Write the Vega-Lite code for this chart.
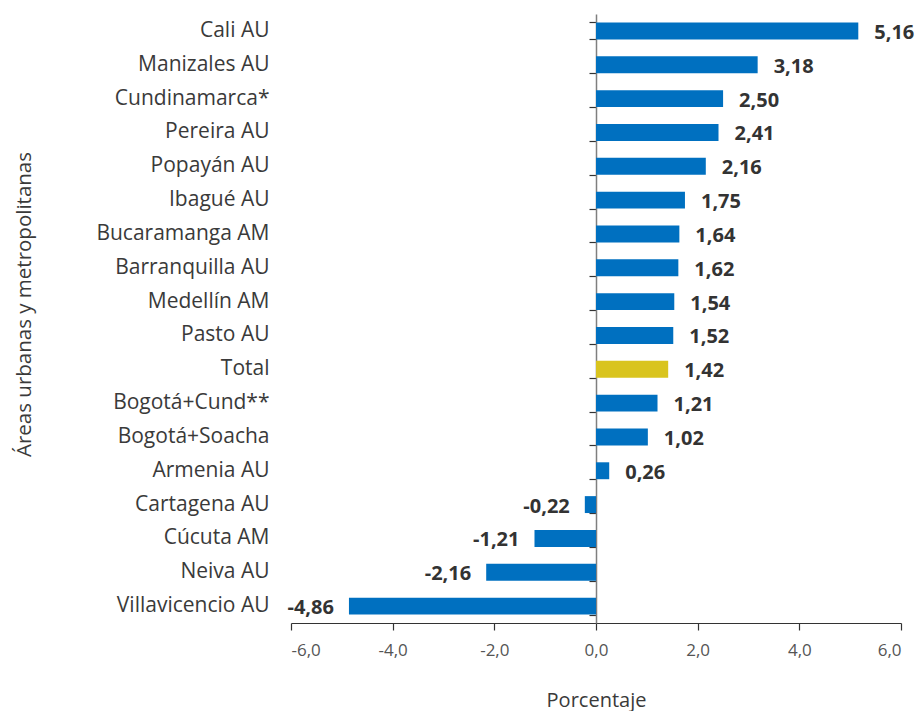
{
  "$schema": "https://vega.github.io/schema/vega-lite/v6.json",
  "autosize": {"type": "none"},
  "width": 610,
  "height": 609,
  "padding": {"left": 291, "top": 14, "right": 16, "bottom": 88},
  "background": "white",
  "config": {
    "font": "Open Sans",
    "view": {"stroke": null},
    "locale": {"number": {"decimal": ",", "thousands": ".", "grouping": [3], "currency": ["", ""], "minus": "-"}}
  },
  "data": {
    "values": [
      {"area": "Cali AU", "v": 5.16, "tipo": "area"},
      {"area": "Manizales AU", "v": 3.18, "tipo": "area"},
      {"area": "Cundinamarca*", "v": 2.50, "tipo": "area"},
      {"area": "Pereira AU", "v": 2.41, "tipo": "area"},
      {"area": "Popayán AU", "v": 2.16, "tipo": "area"},
      {"area": "Ibagué AU", "v": 1.75, "tipo": "area"},
      {"area": "Bucaramanga AM", "v": 1.64, "tipo": "area"},
      {"area": "Barranquilla AU", "v": 1.62, "tipo": "area"},
      {"area": "Medellín AM", "v": 1.54, "tipo": "area"},
      {"area": "Pasto AU", "v": 1.52, "tipo": "area"},
      {"area": "Total", "v": 1.42, "tipo": "total"},
      {"area": "Bogotá+Cund**", "v": 1.21, "tipo": "area"},
      {"area": "Bogotá+Soacha ", "v": 1.02, "tipo": "area"},
      {"area": "Armenia AU", "v": 0.26, "tipo": "area"},
      {"area": "Cartagena AU", "v": -0.22, "tipo": "area"},
      {"area": "Cúcuta AM", "v": -1.21, "tipo": "area"},
      {"area": "Neiva AU", "v": -2.16, "tipo": "area"},
      {"area": "Villavicencio AU", "v": -4.86, "tipo": "area"}
    ]
  },
  "resolve": {"axis": {"y": "independent"}},
  "layer": [
    {
      "mark": {"type": "bar"},
      "encoding": {
        "y": {
          "field": "area", "type": "nominal", "sort": null,
          "scale": {"paddingInner": 0.5, "paddingOuter": 0.25},
          "axis": {
            "orient": "left",
            "title": "Áreas urbanas y metropolitanas",
            "titleFontSize": 20.5, "titleFontWeight": "normal", "titleColor": "#3a3a3a",
            "titlePadding": 61, "titleY": 290,
            "labelFontSize": 21, "labelColor": "#3a3a3a", "labelPadding": 22,
            "ticks": false, "domain": false, "grid": false
          }
        },
        "x": {
          "field": "v", "type": "quantitative",
          "scale": {"domain": [-6, 6], "nice": false, "zero": false},
          "axis": {
            "title": "Porcentaje",
            "values": [-6, -4, -2, 0, 2, 4, 6],
            "format": ".1f",
            "titleFontSize": 20, "titleFontWeight": "normal", "titleColor": "#3a3a3a",
            "titlePadding": 32,
            "labelFontSize": 17, "labelColor": "#555555", "labelPadding": 12,
            "tickSize": 7, "tickColor": "#333333", "domainColor": "#333333",
            "domainWidth": 1.2, "tickWidth": 1.2,
            "grid": false
          }
        },
        "color": {
          "field": "tipo", "type": "nominal",
          "scale": {"domain": ["area", "total"], "range": ["#0070C0", "#D9C41E"]},
          "legend": null
        }
      }
    },
    {
      "transform": [{"filter": "datum.v >= 0"}],
      "mark": {"type": "text", "align": "left", "baseline": "middle", "dx": 16, "dy": 2, "fontSize": 20, "fontWeight": "bold", "color": "#333333"},
      "encoding": {
        "y": {
          "field": "area", "type": "nominal", "sort": null,
          "axis": {
            "orient": "left", "offset": -305, "title": null,
            "labels": false, "grid": false,
            "domain": true, "domainColor": "#7f7f7f", "domainWidth": 1.5,
            "ticks": true, "tickBand": "extent", "tickSize": 7, "tickColor": "#333333", "tickWidth": 1.2
          }
        },
        "x": {"field": "v", "type": "quantitative"},
        "text": {"field": "v", "type": "quantitative", "format": ".2f"}
      }
    },
    {
      "transform": [{"filter": "datum.v < 0"}],
      "mark": {"type": "text", "align": "right", "baseline": "middle", "dx": -15, "dy": 2, "fontSize": 20, "fontWeight": "bold", "color": "#333333"},
      "encoding": {
        "y": {"field": "area", "type": "nominal", "sort": null, "axis": null},
        "x": {"field": "v", "type": "quantitative"},
        "text": {"field": "v", "type": "quantitative", "format": ".2f"}
      }
    }
  ]
}
